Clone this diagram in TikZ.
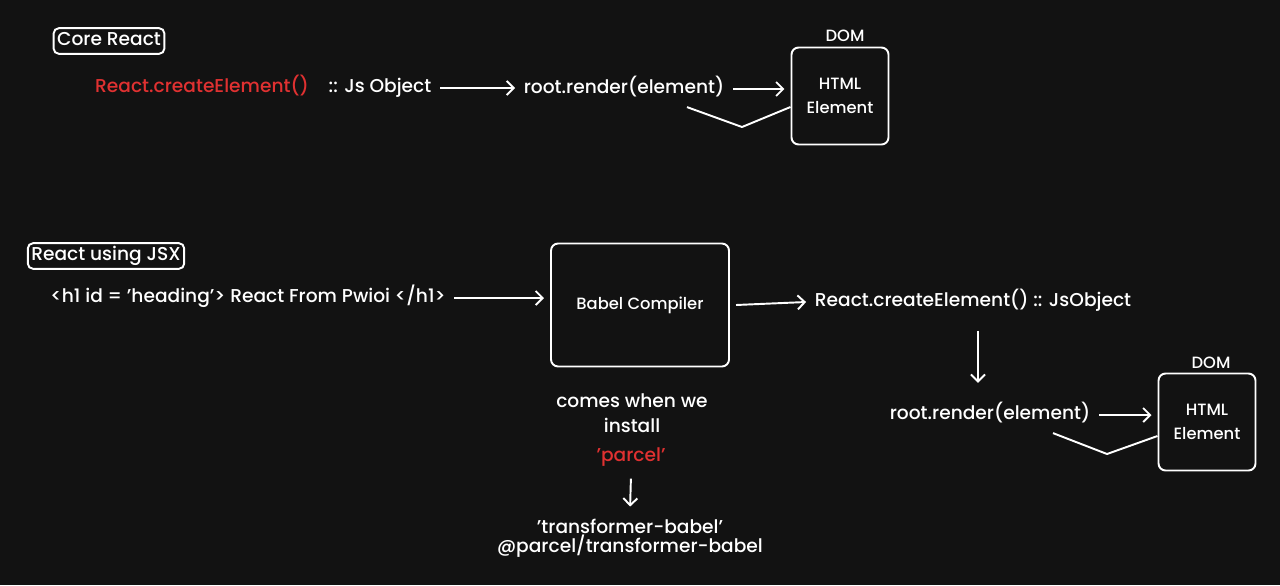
\documentclass[tikz,border=0pt]{standalone}
\usepackage{fontspec}
\setmainfont{Poppins Medium}
\usetikzlibrary{arrows.meta}
\definecolor{bgdark}{HTML}{121212}
\definecolor{jsred}{HTML}{E03131}

\begin{document}
\begin{tikzpicture}[x=0.02cm,y=-0.02cm,
  every node/.style={text=white,font=\fontsize{10.6}{12}\selectfont,inner sep=1pt,outer sep=4pt,
    text height=8pt,text depth=2.6pt},
  redtext/.style={text=jsred},
  small/.style={font=\fontsize{9.3}{13.6}\selectfont},
  tag/.style={draw=white,line width=1.1pt,rounded corners=3pt,inner sep=2pt,outer sep=0pt},
  domframe/.style={draw=white,line width=1.1pt,rounded corners=4pt,align=center,small,
    text height=,text depth=,minimum width=1.94cm,minimum height=1.94cm},
  flow/.style={draw=white,line width=1.1pt,-{Straight Barb[length=4pt,width=8pt]}},
  link/.style={draw=white,line width=1.1pt,line join=round}]

\fill[bgdark] (0,0) rectangle (1280,585);

% core react
\node[tag] (core) at (109,41) {Core React};
\node[redtext] (create1) at (202,88) {React.createElement()};
\node (obj1) at (380,88) {:: Js Object};
\node (render1) at (624,89) {root.render(element)};
\node[domframe] (dom1) at (840,96) {HTML\\Element};
\node[small] (domlbl1) at (845,37) {DOM};
\coordinate (bend1) at (742,127);

\draw[flow] (obj1.east) -- (obj1.east -| render1.west);
\draw[flow] (render1.east) -- (render1.east -| dom1.west);
\draw[link] ([xshift=1.26cm]render1.south) -- (bend1) -- ([shift={(6,11)}]dom1.west);

% react using jsx
\node[tag] (jsx) at (106,256) {React using JSX};
\node (h1) at (248,298) {<h1 id = 'heading'> React From Pwioi </h1>};
\node[domframe,minimum width=3.56cm,minimum height=2.46cm] (babel) at (640,305) {Babel Compiler};
\node (create2) at (973,302) {React.createElement() :: JsObject};
\node (render2) at (990,415) {root.render(element)};
\node[domframe] (dom2) at (1207,422) {HTML\\Element};
\node[small] (domlbl2) at (1211,364) {DOM};
\node[align=center,font=\fontsize{10.6}{14}\selectfont,text height=,text depth=] (note) at (632,413) {comes when we\\install};
\node[redtext] (parcel) at (631,457) {'parcel'};
\node[align=center,font=\fontsize{10.6}{10.8}\selectfont,text height=,text depth=] (plugin) at (630,538) {'transformer-babel'\\@parcel/transformer-babel};
\coordinate (bend2) at (1107,454);

\draw[flow] (h1.east) -- (h1.east -| babel.west);
\draw[flow] (babel.east) -- (create2.west);
\draw[flow,shorten <=6pt,shorten >=8pt] ([xshift=0.1cm]create2.south) -- ([xshift=0.1cm]create2.south |- render2.north);
\draw[flow] (render2.east) -- (render2.east -| dom2.west);
\draw[link] ([xshift=1.26cm]render2.south) -- (bend2) -- ([shift={(6,14)}]dom2.west);
\draw[flow,shorten <=2pt,shorten >=2pt] (parcel.south) -- (plugin.north);
\end{tikzpicture}
\end{document}
